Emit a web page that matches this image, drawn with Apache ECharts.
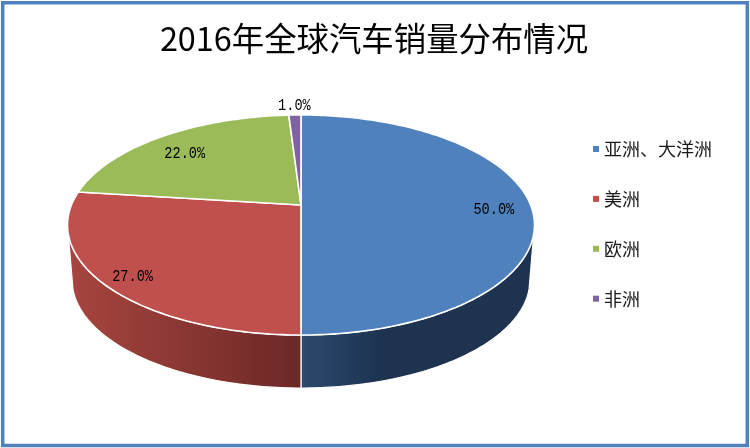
<!DOCTYPE html>
<html><head><meta charset="utf-8">
<style>html,body{margin:0;padding:0;background:#fff}#c{width:750px;height:448px}</style>
<script src="https://cdn.jsdelivr.net/npm/echarts@6/dist/echarts.min.js"></script>
</head><body><div id="c"></div>
<script>
const titleText = '2016年全球汽车销量分布情况';
const categories = ['亚洲、大洋洲', '美洲', '欧洲', '非洲'];
const shares = [50, 27, 22, 1];
const colors = ['#4F81BD', '#C0504D', '#9BBB59', '#8064A2'];

// Projected-circle geometry of the tilted pie
const CX = 301, TOP_Y = 205, A = 229.6, B = 106.4, K = 0.1818;
const BOTTOM_Y = 260.6, BOTTOM_SCALE = 0.98;
const WALL_LIMIT = [105, 255];
const labelRadius = [0.84, 0.875, 0.82, 1.1];
const labelDy = [4, 3, 6, -2];

function project(deg, r, y0, s) {
  const t = deg * Math.PI / 180, X = Math.sin(t) * r, Z = Math.cos(t) * r, d = 1 + K * Z;
  return [CX + s * A * X / d, y0 - s * B * Z / d];
}
function rim(a, b, y0, s) {
  const pts = [], n = Math.max(2, Math.ceil(Math.abs(b - a)));
  for (let i = 0; i <= n; i++) pts.push(project(a + (b - a) * i / n, 1, y0, s));
  return pts;
}
const total = shares.reduce((a, b) => a + b, 0);

function makeRender(i) {
  return function (params, api) {
    const before = shares.slice(0, i).reduce((a, b) => a + b, 0);
    const a0 = before / total * 360, a1 = a0 + api.value(0) / total * 360;
    const children = [];
    const w0 = Math.max(a0, WALL_LIMIT[0]), w1 = Math.min(a1, WALL_LIMIT[1]);
    if (w1 > w0) {
      const stops = i === 0
        ? [[0, '#2C4A6E'], [0.35, '#1D3350'], [1, '#1D3350']]
        : [[0, '#A8453F'], [1, '#6B2826']];
      children.push({
        type: 'polygon', z2: 1,
        shape: { points: rim(w0, w1, TOP_Y, 1).concat(rim(w0, w1, BOTTOM_Y, BOTTOM_SCALE).reverse()) },
        style: {
          fill: { type: 'linear', x: 0, y: 0, x2: 1, y2: 0,
            colorStops: stops.map(s => ({ offset: s[0], color: s[1] })) },
          stroke: '#fff', lineWidth: 1.2, lineJoin: 'round'
        }
      });
    }
    children.push({
      type: 'polygon', z2: 2,
      shape: { points: [[CX, TOP_Y]].concat(rim(a0, a1, TOP_Y, 1)) },
      style: { fill: colors[i], stroke: '#fff', lineWidth: 1.6, lineJoin: 'round' }
    });
    const p = project((a0 + a1) / 2, labelRadius[i], TOP_Y, 1);
    children.push({
      type: 'text', z2: 3, x: p[0], y: p[1] + labelDy[i], scaleX: 0.8,
      style: {
        text: (api.value(0) / total * 100).toFixed(1) + '%',
        fill: '#000', font: '17px "Liberation Mono", monospace',
        align: 'center', verticalAlign: 'middle'
      }
    });
    return { type: 'group', children };
  };
}

const chart = echarts.init(document.getElementById('c'), null, { renderer: 'canvas' });
chart.setOption({
  animation: false,
  backgroundColor: '#fff',
  title: {
    text: titleText, left: 369, top: 17, textAlign: 'center',
    textStyle: { fontFamily: '"Noto Sans CJK SC"', fontWeight: 'normal', fontSize: 32.4, color: '#000' }
  },
  legend: {
    orient: 'vertical', left: 593, top: 140, padding: 0, itemWidth: 6, itemHeight: 6, itemGap: 31.9,
    icon: 'rect', selectedMode: false,
    data: categories,
    textStyle: { fontFamily: '"Noto Sans CJK SC"', fontSize: 18, color: '#1a1a1a' }
  },
  graphic: [{
    type: 'rect', z: -1, shape: { x: 2.7, y: 2.7, width: 744.6, height: 442.8 },
    style: { fill: 'none', stroke: '#4F81BD', lineWidth: 3.5 }
  }],
  series: categories.map((name, i) => ({
    type: 'custom', name, coordinateSystem: 'none',
    itemStyle: { color: colors[i] },
    data: [[shares[i]]], encode: { value: 0 }, silent: true,
    renderItem: makeRender(i)
  }))
});
</script></body></html>
